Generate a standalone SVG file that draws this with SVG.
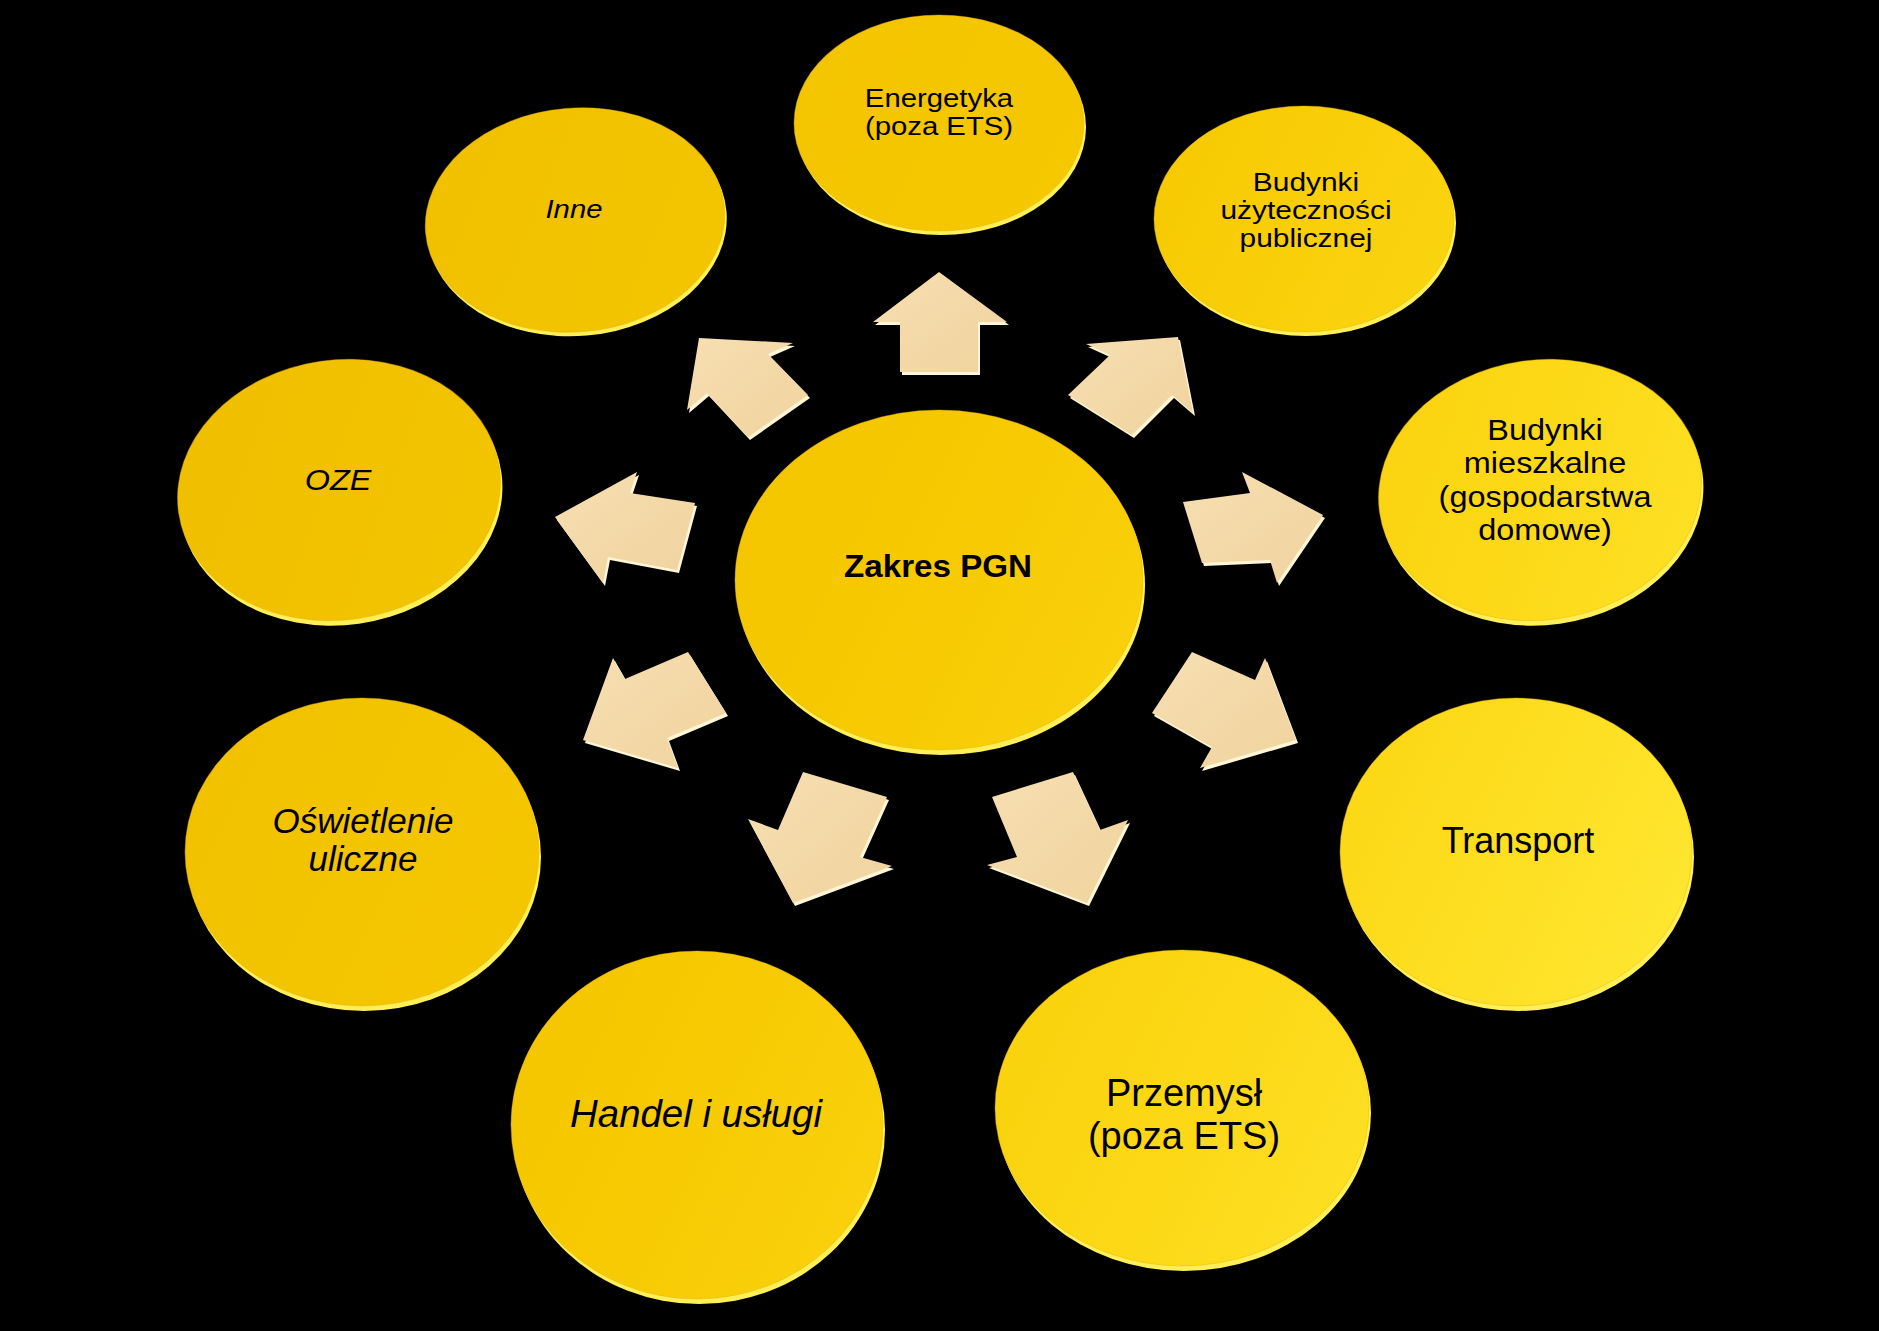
<svg xmlns="http://www.w3.org/2000/svg" width="1879" height="1331" viewBox="0 0 1879 1331">
<defs>
<linearGradient id="yg" gradientUnits="userSpaceOnUse" x1="150" y1="250" x2="1720" y2="1050">
<stop offset="0" stop-color="#EFBE00"/>
<stop offset="0.45" stop-color="#F6C800"/>
<stop offset="0.75" stop-color="#FCD816"/>
<stop offset="1" stop-color="#FFEA36"/>
</linearGradient>
<linearGradient id="ag" x1="0" y1="0" x2="1" y2="1">
<stop offset="0" stop-color="#F7DFB2"/>
<stop offset="1" stop-color="#F0D39E"/>
</linearGradient>
<style>
.bg{fill:#000}
.rim{fill:#FFF05A}
.disc{fill:url(#yg);stroke:#E2B000;stroke-width:1;stroke-opacity:0.4}
.ab{fill:#FFF6D6}
.af{fill:url(#ag)}
.t{font-family:"Liberation Sans",Arial,sans-serif;fill:#000;text-anchor:middle}
.i{font-style:italic}
.b{font-weight:bold}
</style>
</defs>
<rect class="bg" x="0" y="0" width="1879" height="1331"/>

<g id="connectors">
<g id="arrow-up"><polygon class="ab" transform="translate(2,3)" points="939,272 1007,322 978,322 978,372 900,372 900,322 873,322"/><polygon class="af" points="939,272 1007,322 978,322 978,372 900,372 900,322 873,322"/></g>
<g id="arrow-ur"><polygon class="ab" transform="translate(2,3)" points="1178,337 1193,413 1172,395 1132,435 1068,395 1110,355 1086,344"/><polygon class="af" points="1178,337 1193,413 1172,395 1132,435 1068,395 1110,355 1086,344"/></g>
<g id="arrow-r"><polygon class="ab" transform="translate(2,3)" points="1323,515 1277,583 1270,560 1202,563 1183,502 1250,493 1242,472"/><polygon class="af" points="1323,515 1277,583 1270,560 1202,563 1183,502 1250,493 1242,472"/></g>
<g id="arrow-lr"><polygon class="ab" transform="translate(2,3)" points="1296,740 1200,768 1212,747 1152,713 1192,652 1255,680 1265,658"/><polygon class="af" points="1296,740 1200,768 1212,747 1152,713 1192,652 1255,680 1265,658"/></g>
<g id="arrow-dr"><polygon class="ab" transform="translate(2,3)" points="1087,903 987,865 1017,857 992,797 1073,772 1100,830 1128,820"/><polygon class="af" points="1087,903 987,865 1017,857 992,797 1073,772 1100,830 1128,820"/></g>
<g id="arrow-dl"><polygon class="ab" transform="translate(2,3)" points="793,903 748,819 778,830 803,772 887,797 860,857 892,866"/><polygon class="af" points="793,903 748,819 778,830 803,772 887,797 860,857 892,866"/></g>
<g id="arrow-ll"><polygon class="ab" transform="translate(2,3)" points="583,740 613,658 625,679 688,652 726,713 667,738 678,768"/><polygon class="af" points="583,740 613,658 625,679 688,652 726,713 667,738 678,768"/></g>
<g id="arrow-l"><polygon class="ab" transform="translate(2,3)" points="555,517 637,472 630,493 695,503 677,570 608,557 603,583"/><polygon class="af" points="555,517 637,472 630,493 695,503 677,570 608,557 603,583"/></g>
<g id="arrow-ul"><polygon class="ab" transform="translate(2,3)" points="699,338 793,343 768,354 808,395 748,437 707,393 687,410"/><polygon class="af" points="699,338 793,343 768,354 808,395 748,437 707,393 687,410"/></g>
</g>

<g id="node-center">
<ellipse class="rim" cx="941" cy="585" rx="204" ry="170"/>
<ellipse class="disc" cx="939" cy="580" rx="204" ry="170"/>
<text class="t b" transform="translate(938,577) scale(1.07,1)" x="0" y="0" font-size="31">Zakres PGN</text>
</g>

<g id="node-energetyka">
<ellipse class="rim" cx="941" cy="127" rx="145" ry="108"/>
<ellipse class="disc" cx="939" cy="123" rx="145" ry="108"/>
<text class="t" transform="translate(939,0) scale(1.15,1)" font-size="25.5"><tspan x="0" y="107">Energetyka</tspan><tspan x="0" y="135">(poza ETS)</tspan></text>
</g>

<g id="node-inne">
<ellipse class="rim" cx="577" cy="224" rx="150" ry="112" transform="rotate(-5 577 224)"/>
<ellipse class="disc" cx="575" cy="220" rx="150" ry="112" transform="rotate(-5 575 220)"/>
<text class="t i" transform="translate(574,218) scale(1.15,1)" x="0" y="0" font-size="25.5">Inne</text>
</g>

<g id="node-budynki-uzytecznosci">
<ellipse class="rim" cx="1306" cy="223" rx="150" ry="113"/>
<ellipse class="disc" cx="1304" cy="219" rx="150" ry="113"/>
<text class="t" transform="translate(1306,0) scale(1.15,1)" font-size="26"><tspan x="0" y="191">Budynki</tspan><tspan x="0" y="219">użyteczności</tspan><tspan x="0" y="247">publicznej</tspan></text>
</g>

<g id="node-budynki-mieszkalne">
<ellipse class="rim" cx="1542" cy="495" rx="162" ry="130" transform="rotate(-8 1542 495)"/>
<ellipse class="disc" cx="1540" cy="490" rx="162" ry="130" transform="rotate(-8 1540 490)"/>
<text class="t" transform="translate(1545,0) scale(1.12,1)" font-size="29"><tspan x="0" y="440">Budynki</tspan><tspan x="0" y="473">mieszkalne</tspan><tspan x="0" y="507">(gospodarstwa</tspan><tspan x="0" y="540">domowe)</tspan></text>
</g>

<g id="node-transport">
<ellipse class="rim" cx="1518" cy="857" rx="176" ry="154"/>
<ellipse class="disc" cx="1516" cy="852" rx="176" ry="154"/>
<text class="t" transform="translate(1518,853) scale(1.0,1)" x="0" y="0" font-size="36">Transport</text>
</g>

<g id="node-przemysl">
<ellipse class="rim" cx="1184" cy="1113" rx="187" ry="158"/>
<ellipse class="disc" cx="1182" cy="1108" rx="187" ry="158"/>
<text class="t" transform="translate(1184,0) scale(1.0,1)" font-size="38"><tspan x="0" y="1106">Przemysł</tspan><tspan x="0" y="1149">(poza ETS)</tspan></text>
</g>

<g id="node-handel">
<ellipse class="rim" cx="699" cy="1130" rx="186" ry="174"/>
<ellipse class="disc" cx="697" cy="1125" rx="186" ry="174"/>
<text class="t i" transform="translate(696,1127) scale(1.0,1)" x="0" y="0" font-size="38.4">Handel i usługi</text>
</g>

<g id="node-oswietlenie">
<ellipse class="rim" cx="364" cy="857" rx="177" ry="154"/>
<ellipse class="disc" cx="362" cy="852" rx="177" ry="154"/>
<text class="t i" transform="translate(363,0) scale(1.0,1)" font-size="35"><tspan x="0" y="833">Oświetlenie</tspan><tspan x="0" y="871">uliczne</tspan></text>
</g>

<g id="node-oze">
<ellipse class="rim" cx="341" cy="495" rx="162" ry="130" transform="rotate(-8 341 495)"/>
<ellipse class="disc" cx="339" cy="490" rx="162" ry="130" transform="rotate(-8 339 490)"/>
<text class="t i" transform="translate(338,490) scale(1.08,1)" x="0" y="0" font-size="30">OZE</text>
</g>
</svg>
